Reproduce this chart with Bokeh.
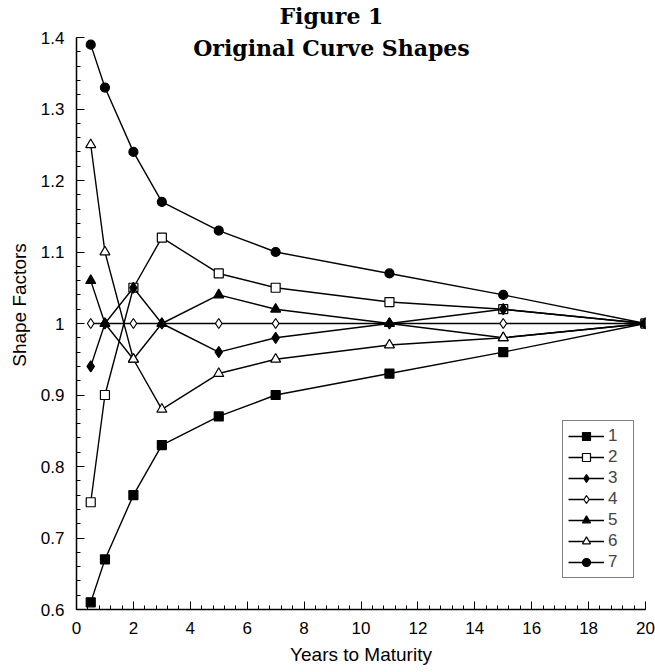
from bokeh.plotting import figure
from bokeh.models import Label, Legend, Range1d, FixedTicker
from bokeh.embed import file_html
from bokeh.resources import INLINE

years = [0.5, 1, 2, 3, 5, 7, 11, 15, 20]
s1 = [0.61, 0.67, 0.76, 0.83, 0.87, 0.90, 0.93, 0.96, 1.00]
s2 = [0.75, 0.90, 1.05, 1.12, 1.07, 1.05, 1.03, 1.02, 1.00]
s3 = [0.94, 1.00, 1.05, 1.00, 0.96, 0.98, 1.00, 1.02, 1.00]
s4 = [1.00, 1.00, 1.00, 1.00, 1.00, 1.00, 1.00, 1.00, 1.00]
s5 = [1.06, 1.00, 0.95, 1.00, 1.04, 1.02, 1.00, 0.98, 1.00]
s6 = [1.25, 1.10, 0.95, 0.88, 0.93, 0.95, 0.97, 0.98, 1.00]
s7 = [1.39, 1.33, 1.24, 1.17, 1.13, 1.10, 1.07, 1.04, 1.00]
series_names = ["1", "2", "3", "4", "5", "6", "7"]
x_ticks = [0, 2, 4, 6, 8, 10, 12, 14, 16, 18, 20]
y_ticks = [0.6, 0.7, 0.8, 0.9, 1.0, 1.1, 1.2, 1.3, 1.4]
title_lines = ["Figure 1", "Original Curve Shapes"]

# frame spans the full height above the x axis; the y axis itself stops at 1.4
y_top = 0.6 + 0.8 * 609 / 572
p = figure(width=655, height=672, output_backend="svg", toolbar_location=None,
           x_range=Range1d(0, 20), y_range=Range1d(0.6, y_top),
           min_border_left=76, min_border_right=10, min_border_top=0,
           min_border_bottom=63)
p.outline_line_color = None
p.xgrid.visible = False
p.ygrid.visible = False
p.background_fill_color = "white"

styles = [
    ("square", "black", 9),
    ("square", "white", 9),
    ("diamond", "black", 11),
    ("diamond", "white", 10),
    ("triangle", "black", 10),
    ("triangle", "white", 10),
    ("circle", "black", 9),
]
data = [s1, s2, s3, s4, s5, s6, s7]
items = []
for name, ys, (mk, fill, sz) in zip(series_names, data, styles):
    r1 = p.line(years, ys, line_color="black", line_width=1.4)
    r2 = p.scatter(years, ys, marker=mk, size=sz, fill_color=fill,
                   line_color="black", line_width=1.2)
    items.append((name, [r1, r2]))

legend = Legend(items=items, location=(486, 31), glyph_width=36, glyph_height=20,
                label_height=20, spacing=1, padding=5, margin=0,
                label_standoff=4, label_text_font="Liberation Sans",
                label_text_font_size="17px", border_line_color="black",
                border_line_width=1.5, background_fill_color="white",
                background_fill_alpha=1.0)
p.add_layout(legend, "center")

for ax in (p.xaxis[0], p.yaxis[0]):
    ax.axis_line_color = "black"
    ax.axis_line_width = 1.5
    ax.major_tick_in = 8
    ax.major_tick_out = 0
    ax.minor_tick_in = 4
    ax.minor_tick_out = 0
    ax.major_tick_line_color = "black"
    ax.minor_tick_line_color = "black"
    ax.major_label_text_font = "Liberation Sans"
    ax.major_label_text_font_size = "17px"
    ax.major_label_text_color = "black"
    ax.axis_label_text_font = "Liberation Sans"
    ax.axis_label_text_font_size = "19px"
    ax.axis_label_text_font_style = "normal"
    ax.axis_label_text_color = "black"

p.yaxis.bounds = (0.6, 1.4)
p.xaxis.ticker = FixedTicker(ticks=x_ticks, minor_ticks=[i * 0.4 for i in range(51)])
p.yaxis.ticker = FixedTicker(ticks=y_ticks, minor_ticks=[0.6 + i * 0.02 for i in range(41)])
p.xaxis.major_label_overrides = {t: str(t) for t in x_ticks}
p.yaxis.major_label_overrides = {t: ("1" if abs(t - 1) < 1e-9 else f"{t:.1f}") for t in y_ticks}
p.xaxis.axis_label = "Years to Maturity"
p.yaxis.axis_label = "Shape Factors"
p.xaxis.major_label_standoff = 12
p.xaxis.axis_label_standoff = 7
p.yaxis.major_label_standoff = 12
p.yaxis.axis_label_standoff = 8

p.add_layout(Label(x=8.96, y=1.4294, text=title_lines[0], text_align="center",
                   text_baseline="middle", text_font="DejaVu Serif",
                   text_font_style="bold", text_font_size="22px", text_color="black"))
p.add_layout(Label(x=8.96, y=1.3853, text=title_lines[1], text_align="center",
                   text_baseline="middle", text_font="DejaVu Serif",
                   text_font_style="bold", text_font_size="22px", text_color="black"))

open("out.html", "w").write(file_html(p, INLINE))
